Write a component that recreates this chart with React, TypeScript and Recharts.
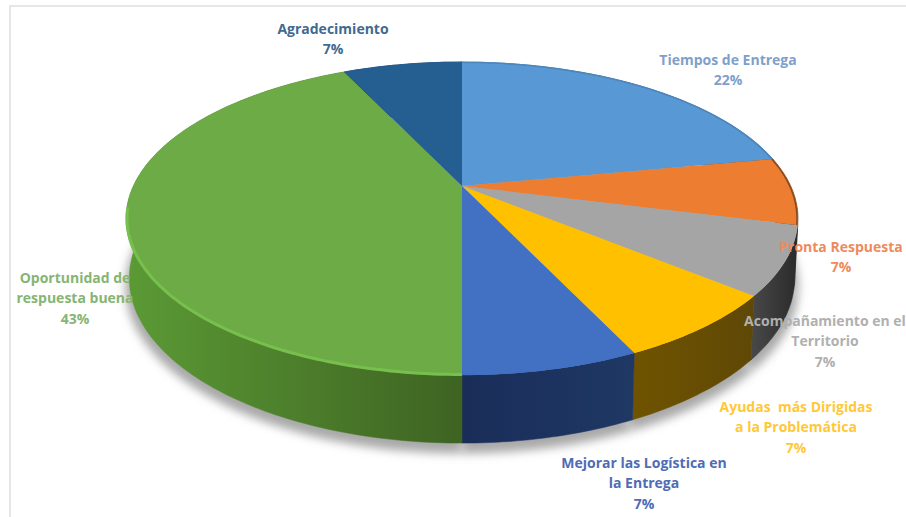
import { PieChart, Pie } from 'recharts'

const categories = [
  'Tiempos de Entrega',
  'Pronta Respuesta',
  'Acompañamiento en el Territorio',
  'Ayudas  más Dirigidas a la Problemática',
  'Mejorar las Logística en la Entrega',
  'Oportunidad de respuesta buena',
  'Agradecimiento',
]
const percents = [22, 7, 7, 7, 7, 43, 7]

const labelLines = [
  ['Tiempos de Entrega'],
  ['Pronta Respuesta'],
  ['Acompañamiento en el', 'Territorio'],
  ['Ayudas  más Dirigidas', 'a la Problemática'],
  ['Mejorar las Logística en', 'la Entrega'],
  ['Oportunidad de', 'respuesta buena'],
  ['Agradecimiento'],
]

const topColors = ['#5898d4', '#ed7d31', '#a5a5a5', '#ffc000', '#4270c2', '#6cab45', '#255e91']
const rimColors = ['#4c86bb', '#8a4a1c', '#a5a5a5', '#ffc000', '#4270c2', '#78c04e', '#255e91']
const wallLeft = ['#2f5f8c', '#6b3a14', '#474747', '#6f5300', '#1a2d59', '#5b9a35', '#173a5a']
const wallRight = ['#2f5f8c', '#40220c', '#2a2a2a', '#5f4806', '#1f3864', '#3e6322', '#173a5a']
const labelColors = ['#7f9fcb', '#ee8a5c', '#b0b0b0', '#ffc838', '#4f6cb5', '#86b573', '#3f6a92']

// centre of the first text line of each label
const labelSpots = [
  { x: 728, y: 59 },
  { x: 841, y: 246 },
  { x: 825, y: 320 },
  { x: 796, y: 406 },
  { x: 644, y: 462 },
  { x: 75, y: 277 },
  { x: 333, y: 28 },
]

const slices = categories.map((name, i) => ({ name, value: percents[i] }))

const PIE_CX = 462
const PIE_CY = 186
const RADIUS = 328.7
const TILT = 0.2077
const TOP_SQUASH = 0.4557
const FLOOR_SQUASH = 0.48
const FLOOR_DROP = 58
const FLOOR_SCALE = 0.99

type Pt = [number, number]

// perspective projection of a point on the upper disc
function onTop(cx: number, cy: number, r: number, deg: number): Pt {
  const t = ((90 - deg) * Math.PI) / 180
  const w = 1 + TILT * Math.cos(t)
  return [cx + (r * Math.sin(t)) / w, cy - (r * TOP_SQUASH * Math.cos(t)) / w]
}

// same thing for the lower disc, a bit narrower and further down
function onFloor(cx: number, cy: number, r: number, deg: number): Pt {
  const t = ((90 - deg) * Math.PI) / 180
  const w = 1 + TILT * Math.cos(t)
  return [cx + (FLOOR_SCALE * r * Math.sin(t)) / w, cy + FLOOR_DROP - (r * FLOOR_SQUASH * Math.cos(t)) / w]
}

function sweep(start: number, end: number, fn: (deg: number) => Pt): Pt[] {
  const n = Math.max(2, Math.ceil(Math.abs(end - start)))
  const pts: Pt[] = []
  for (let i = 0; i <= n; i++) pts.push(fn(start + ((end - start) * i) / n))
  return pts
}

const toPath = (pts: Pt[]) => pts.map((p, i) => `${i ? 'L' : 'M'}${p[0].toFixed(1)} ${p[1].toFixed(1)}`).join(' ')

function ShadowShape(props: any) {
  const { cx, cy, outerRadius, startAngle, endAngle, index } = props
  const apex = onFloor(cx, cy, 0, 0)
  const rim = sweep(startAngle, endAngle, (d) => onFloor(cx, cy + 8, outerRadius * 1.012, d))
  const id = `soft-${index}`
  return (
    <g>
      <defs>
        <filter id={id} filterUnits="userSpaceOnUse" x={0} y={0} width={906} height={517}>
          <feGaussianBlur stdDeviation={5} />
        </filter>
      </defs>
      <path d={toPath([apex, ...rim]) + ' Z'} fill="#8c8c8c" fillOpacity={0.75} filter={`url(#${id})`} />
    </g>
  )
}

function WallShape(props: any) {
  const { cx, cy, outerRadius, startAngle, endAngle, index } = props
  const upper = sweep(startAngle, endAngle, (d) => onTop(cx, cy, outerRadius, d))
  const lower = sweep(endAngle, startAngle, (d) => onFloor(cx, cy, outerRadius, d))
  const xs = upper.map((p) => p[0])
  const id = `wall-${index}`
  return (
    <g>
      <defs>
        <linearGradient id={id} gradientUnits="userSpaceOnUse" x1={Math.min(...xs)} x2={Math.max(...xs)} y1={0} y2={0}>
          <stop offset="0%" stopColor={wallLeft[index]} />
          <stop offset="100%" stopColor={wallRight[index]} />
        </linearGradient>
      </defs>
      <path d={toPath([...upper, ...lower]) + ' Z'} fill={`url(#${id})`} stroke={`url(#${id})`} strokeWidth={0.5} />
    </g>
  )
}

function TopShape(props: any) {
  const { cx, cy, outerRadius, startAngle, endAngle, index } = props
  const rim = sweep(startAngle, endAngle, (d) => onTop(cx, cy, outerRadius, d))
  const apex: Pt = [cx, cy]
  // the bevel highlight only shows along the front of the disc, so the big slice stops at its left end
  const bevelEnd = index === 5 ? Math.max(endAngle, -172) : endAngle
  const bevel = sweep(startAngle, bevelEnd, (d) => onTop(cx, cy, outerRadius - 1, d))
  return (
    <g>
      <path d={toPath([apex, ...rim]) + ' Z'} fill={topColors[index]} />
      <path d={toPath(bevel)} fill="none" stroke={rimColors[index]} strokeWidth={index === 5 ? 3 : 1.5} />
    </g>
  )
}

function renderLabel(props: any) {
  const { index, value } = props
  const spot = labelSpots[index]
  const lines = [...labelLines[index], `${value}%`]
  return (
    <text
      key={index}
      x={spot.x}
      y={spot.y}
      fill={labelColors[index]}
      textAnchor="middle"
      fontFamily="'Open Sans', sans-serif"
      fontWeight={700}
      fontSize={14}
      style={{ whiteSpace: 'pre' }}
    >
      {lines.map((line, i) => (
        <tspan key={i} x={spot.x} y={spot.y + i * 20.5} dominantBaseline="central">
          {line}
        </tspan>
      ))}
    </text>
  )
}

export default function App() {
  return (
    <div style={{ position: 'absolute', left: 0, top: 0, width: 906, height: 517, background: '#fff', overflow: 'hidden' }}>
      <div style={{ position: 'absolute', left: 9, top: 5, right: 0, height: 2, background: '#e6e6e6' }} />
      <div style={{ position: 'absolute', left: 9, top: 5, bottom: 0, width: 2, background: '#e6e6e6' }} />
      <PieChart width={906} height={517} margin={{ top: 0, right: 0, bottom: 0, left: 0 }} style={{ position: 'absolute' }}>
        <Pie
          data={slices}
          dataKey="value"
          cx={PIE_CX}
          cy={PIE_CY}
          outerRadius={RADIUS}
          startAngle={90}
          endAngle={-270}
          stroke="none"
          shape={ShadowShape}
          isAnimationActive={false}
        />
        <Pie
          data={slices}
          dataKey="value"
          cx={PIE_CX}
          cy={PIE_CY}
          outerRadius={RADIUS}
          startAngle={90}
          endAngle={-270}
          stroke="none"
          shape={WallShape}
          isAnimationActive={false}
        />
        <Pie
          data={slices}
          dataKey="value"
          cx={PIE_CX}
          cy={PIE_CY}
          outerRadius={RADIUS}
          startAngle={90}
          endAngle={-270}
          stroke="none"
          shape={TopShape}
          label={renderLabel}
          labelLine={false}
          isAnimationActive={false}
        />
      </PieChart>
    </div>
  )
}
